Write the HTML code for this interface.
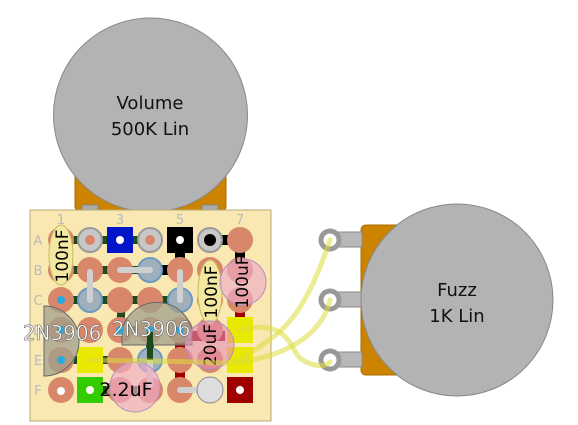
<!DOCTYPE html>
<html><head><style>html,body{margin:0;padding:0;background:#fff;}svg{display:block}</style></head>
<body>
<svg width="578" height="425" viewBox="0 0 578 425" xmlns="http://www.w3.org/2000/svg" font-family="DejaVu Sans, Liberation Sans, sans-serif">
<!-- Volume pot -->
<rect x="75" y="165" width="151" height="47" rx="6" fill="#cc8400" stroke="#a86c00"/>
<rect x="82" y="205" width="16" height="35" fill="#aaa" stroke="#888"/>
<rect x="142" y="205" width="16" height="35" fill="#aaa" stroke="#888"/>
<rect x="202" y="205" width="16" height="35" fill="#aaa" stroke="#888"/>
<circle cx="150.5" cy="115" r="97" fill="#b3b3b3" stroke="#888"/>
<text x="150" y="109" font-size="18" text-anchor="middle" fill="#111">Volume</text>
<text x="150" y="135" font-size="18" text-anchor="middle" fill="#111">500K Lin</text>
<!-- board -->
<rect x="30" y="210" width="241" height="211" fill="#f9e8b1" stroke="#b8a878"/>
<g fill="#bbb" font-size="13" text-anchor="middle">
<text x="61" y="224">1</text><text x="120" y="224">3</text><text x="180" y="224">5</text><text x="240" y="224">7</text>
<text x="38" y="245">A</text><text x="38" y="275">B</text><text x="38" y="305">C</text><text x="38" y="335">D</text><text x="38" y="365">E</text><text x="38" y="395">F</text>
</g>
<!-- traces -->
<g stroke="#1d4a1d" stroke-width="8" fill="none">
<line x1="61" y1="240" x2="150" y2="240"/>
<line x1="61" y1="270" x2="150" y2="270"/>
<line x1="61" y1="300" x2="120" y2="300"/>
<line x1="61" y1="360" x2="120" y2="360"/>
<polyline points="150,360 150,330 120,330"/>
<line x1="90" y1="390" x2="150" y2="390"/>
<polyline points="120,330 122,300 180,300"/>
</g>
<g stroke="#000" stroke-width="10" fill="none">
<polyline points="180,240 180,270 150,270"/>
<polyline points="210,240 240,240 240,275"/>
</g>
<g stroke="#a00000" stroke-width="10" fill="none">
<polyline points="225,336 180,336 180,390"/>
<line x1="240" y1="295" x2="240" y2="320"/>
</g>
<!-- holes -->
<g fill="#d9876a">
<circle cx="61" cy="240" r="13"/><circle cx="240" cy="240" r="13"/>
<circle cx="61" cy="270" r="13"/><circle cx="90" cy="270" r="13"/><circle cx="120" cy="270" r="13"/><circle cx="180" cy="270" r="13"/><circle cx="210" cy="270" r="13"/><circle cx="240" cy="270" r="13"/>
<circle cx="61" cy="300" r="13"/><circle cx="120" cy="300" r="13"/><circle cx="150" cy="300" r="13"/><circle cx="210" cy="300" r="13"/><circle cx="240" cy="300" r="13"/>
<circle cx="61" cy="330" r="13"/><circle cx="90" cy="330" r="13"/><circle cx="120" cy="330" r="13"/><circle cx="150" cy="330" r="13"/><circle cx="180" cy="330" r="13"/><circle cx="210" cy="330" r="13"/>
<circle cx="61" cy="360" r="13"/><circle cx="120" cy="360" r="13"/><circle cx="180" cy="360" r="13"/><circle cx="210" cy="360" r="13"/>
<circle cx="61" cy="390" r="13"/><circle cx="120" cy="390" r="13"/><circle cx="150" cy="390" r="13"/><circle cx="180" cy="390" r="13"/>
</g>
<circle cx="61" cy="391" r="4" fill="#fff"/>
<g fill="#c8c8c8" stroke="#999" stroke-width="2">
<circle cx="90" cy="240" r="12"/><circle cx="150" cy="240" r="12"/><circle cx="210" cy="240" r="12"/>
</g>
<circle cx="90" cy="240" r="5" fill="#d9876a"/><circle cx="150" cy="240" r="5" fill="#d9876a"/><circle cx="210" cy="240" r="6" fill="#000"/>
<!-- pads -->
<rect x="107" y="227" width="26" height="26" fill="#0016c8"/><circle cx="120" cy="240" r="4" fill="#fff"/>
<rect x="167" y="227" width="26" height="26" fill="#000"/><circle cx="180" cy="240" r="4" fill="#fff"/>
<rect x="77" y="347" width="26" height="26" fill="#e8e800"/>
<rect x="77" y="377" width="26" height="26" fill="#33cc00"/><circle cx="90" cy="390" r="4" fill="#fff"/>
<rect x="227" y="317" width="26" height="26" fill="#e8e800"/>
<rect x="227" y="347" width="26" height="26" fill="#e8e800"/>
<rect x="227" y="377" width="26" height="26" fill="#a00000"/><circle cx="240" cy="390" r="4" fill="#fff"/>
<g fill="#9fb0bc" stroke="#6b9bc0" stroke-width="2">
<circle cx="150" cy="270" r="12"/><circle cx="90" cy="300" r="12"/><circle cx="180" cy="300" r="12"/><circle cx="150" cy="360" r="12"/>
</g>
<g stroke="#d0d0d0" stroke-width="6" stroke-linecap="round" fill="none">
<line x1="90" y1="272" x2="90" y2="300"/>
<line x1="120" y1="270" x2="150" y2="270"/>
<line x1="180" y1="272" x2="180" y2="300"/>
<line x1="150" y1="360" x2="150" y2="385"/>
<line x1="180" y1="390" x2="210" y2="390"/>
</g>
<circle cx="210" cy="390" r="13" fill="#ddd" stroke="#888"/>
<!-- transistors -->
<path d="M44,306 A35,35 0 1,1 44,376 Z" fill="rgba(160,160,140,0.75)" stroke="#666"/>
<path d="M122,345 L122,330 A36,36 0 0,1 192,330 L192,345 Z" fill="rgba(160,160,140,0.75)" stroke="#666"/>
<circle cx="61" cy="300" r="4" fill="#29a8e0"/><circle cx="61" cy="330" r="4" fill="#29a8e0"/><circle cx="61" cy="360" r="4" fill="#29a8e0"/>
<circle cx="120" cy="330" r="4" fill="#29a8e0"/><circle cx="150" cy="330" r="4" fill="#29a8e0"/><circle cx="180" cy="330" r="4" fill="#29a8e0"/>
<line x1="150" y1="332" x2="150" y2="360" stroke="#1d4a1d" stroke-width="6"/>
<text x="62" y="340" font-size="20" fill="#fff" text-anchor="middle" stroke="#555" stroke-width="0.5">2N3906</text>
<text x="151" y="336" font-size="20" fill="#fff" text-anchor="middle" stroke="#555" stroke-width="0.5">2N3906</text>
<!-- caps -->
<ellipse cx="61" cy="255" rx="12" ry="30" fill="#f3e8a0" stroke="#c8b860"/>
<text transform="translate(68,256) rotate(-90)" font-size="17" text-anchor="middle">100nF</text>
<ellipse cx="210" cy="292" rx="12" ry="32" fill="#f3e8a0" stroke="#c8b860"/>
<text transform="translate(217,292) rotate(-90)" font-size="17" text-anchor="middle">100nF</text>
<circle cx="243" cy="282" r="23" fill="rgba(240,170,200,0.65)" stroke="#b090c0"/>
<text transform="translate(248,282) rotate(-90)" font-size="17" text-anchor="middle">100uF</text>
<circle cx="210" cy="345" r="24" fill="rgba(230,140,180,0.6)" stroke="#b090c0"/>
<text transform="translate(216,345) rotate(-90)" font-size="17" text-anchor="middle">20uF</text>
<circle cx="135" cy="387" r="25" fill="rgba(240,170,200,0.65)" stroke="#b090c0"/>
<text x="126" y="396" font-size="19" text-anchor="middle">2.2uF</text>
<!-- Fuzz pot -->
<rect x="361" y="225" width="50" height="150" rx="5" fill="#cc8400" stroke="#a86c00"/>
<g fill="#b8b8b8" stroke="#888">
<rect x="330" y="232" width="32" height="15"/><rect x="330" y="292" width="32" height="15"/><rect x="330" y="352" width="32" height="15"/>
</g>
<g fill="#fff" stroke="#999" stroke-width="5">
<circle cx="330" cy="240" r="9"/><circle cx="330" cy="300" r="9"/><circle cx="330" cy="360" r="9"/>
</g>
<circle cx="457" cy="300" r="96" fill="#b3b3b3" stroke="#888"/>
<text x="457" y="296" font-size="18" text-anchor="middle" fill="#111">Fuzz</text>
<text x="457" y="322" font-size="18" text-anchor="middle" fill="#111">1K Lin</text>
<!-- wires -->
<g stroke="rgba(220,220,60,0.55)" stroke-width="5" fill="none" stroke-linecap="round">
<path d="M240,330 C290,318 290,350 300,358 C310,366 325,368 330,362"/>
<path d="M240,360 C275,335 300,330 330,240"/>
<path d="M90,360 L200,362 C260,368 320,345 330,300"/>
</g>
</svg>
</body></html>
